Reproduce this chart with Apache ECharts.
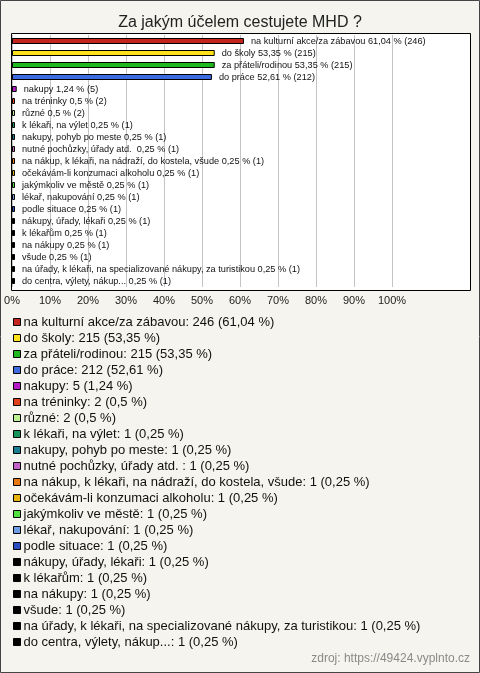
<!DOCTYPE html>
<html>
<head>
<meta charset="utf-8">
<script src="https://cdn.jsdelivr.net/npm/echarts@6/dist/echarts.min.js"></script>
<style>
html,body{margin:0;padding:0;background:#f5f4ee;}
#c{width:480px;height:673px;}
</style>
</head>
<body>
<div id="c"></div>
<script>
const title = "Za jakým účelem cestujete MHD ?";
const source = "zdroj: https://49424.vyplnto.cz";
const categories = [
  "na kulturní akce/za zábavou",
  "do školy",
  "za přáteli/rodinou",
  "do práce",
  "nakupy",
  "na tréninky",
  "různé",
  "k lékaři, na výlet",
  "nakupy, pohyb po meste",
  "nutné pochůzky, úřady atd. ",
  "na nákup, k lékaři, na nádraží, do kostela, všude",
  "očekávám-li konzumaci alkoholu",
  "jakýmkoliv ve městě",
  "lékař, nakupování",
  "podle situace",
  "nákupy, úřady, lékaři",
  "k lékařům",
  "na nákupy",
  "všude",
  "na úřady, k lékaři, na specializované nákupy, za turistikou",
  "do centra, výlety, nákup..."
];
const counts = [246,215,215,212,5,2,2,1,1,1,1,1,1,1,1,1,1,1,1,1,1];
const percents = [61.04,53.35,53.35,52.61,1.24,0.5,0.5,0.25,0.25,0.25,0.25,0.25,0.25,0.25,0.25,0.25,0.25,0.25,0.25,0.25,0.25];
const colors = [
  "#c4261d","#ffe21a","#1fb81f","#3d6be0","#b41cc8","#e0401a","#bdf08f",
  "#16945a","#1a7d92","#c362c9","#e87812","#e8b20f","#52e03e","#6d9de6","#2a4fc0",
  "#000000","#000000","#000000","#000000","#000000","#000000"
];
const xTicks = [0,10,20,30,40,50,60,70,80,90,100];

const fmt = v => String(v).replace('.', ',');

const chart = echarts.init(document.getElementById('c'), null, {renderer:'canvas'});

const series = categories.map((name, i) => ({
  name: name,
  type: 'bar',
  stack: 'all',
  barWidth: 6,
  barMinHeight: 3,
  data: percents.map((v, j) => j === i ? v : null),
  itemStyle: {
    color: colors[i],
    borderColor: '#000',
    borderWidth: 1
  },
  label: {
    show: true,
    position: 'right',
    distance: 7,
    fontFamily: 'Liberation Sans, Arial, sans-serif',
    fontSize: 9.2,
    color: '#111',
    formatter: p => `${categories[i]} ${fmt(percents[i])} % (${counts[i]})`
  },
  emphasis: {disabled: true},
  animation: false
}));

chart.setOption({
  backgroundColor: '#f5f4ee',
  animation: false,
  title: {
    text: title,
    left: 'center',
    top: 10,
    textStyle: {fontFamily: 'Liberation Sans, Arial, sans-serif', fontSize: 16, fontWeight: 'normal', color: '#222'}
  },
  grid: {left: 12, top: 35, width: 380, height: 252, containLabel: false},
  xAxis: {
    type: 'value',
    min: 0,
    max: 100,
    interval: 10,
    axisLine: {show: false},
    axisTick: {show: false},
    splitLine: {show: true, lineStyle: {color: '#c4c4c4', width: 1}},
    axisLabel: {
      show: true,
      margin: 8,
      fontFamily: 'Liberation Sans, Arial, sans-serif',
      fontSize: 11,
      color: '#222',
      formatter: v => xTicks.includes(v) ? v + '%' : ''
    }
  },
  yAxis: {
    type: 'category',
    data: categories,
    inverse: true,
    axisLine: {show: false},
    axisTick: {show: false},
    axisLabel: {show: false},
    splitLine: {show: false}
  },
  legend: {
    orient: 'vertical',
    left: 8,
    top: 309,
    itemWidth: 7,
    itemHeight: 7,
    itemGap: 0,
    icon: 'rect',
    selectedMode: false,
    data: categories,
    itemStyle: {borderColor: '#000', borderWidth: 1},
    textStyle: {fontFamily: 'Liberation Sans, Arial, sans-serif', fontSize: 13, color: '#111', lineHeight: 16, padding: [0,0,0,-2]},
    formatter: name => {
      const i = categories.indexOf(name);
      return `${name}: ${counts[i]} (${fmt(percents[i])} %)`;
    }
  },
  graphic: [
    {type: 'rect', z: -10, shape: {x: 11.5, y: 33.5, width: 459, height: 257}, style: {fill: '#ffffff', stroke: '#000', lineWidth: 1}, silent: true},
    {type: 'rect', z: -20, shape: {x: 0.5, y: 0.5, width: 479, height: 672}, style: {fill: 'transparent', stroke: '#444', lineWidth: 1}, silent: true},
    {type: 'text', right: 10, bottom: 8, style: {text: source, fill: '#8a8a8a', font: '12px "Liberation Sans", Arial, sans-serif'}, silent: true}
  ],
  series: series
});
</script>
</body>
</html>
